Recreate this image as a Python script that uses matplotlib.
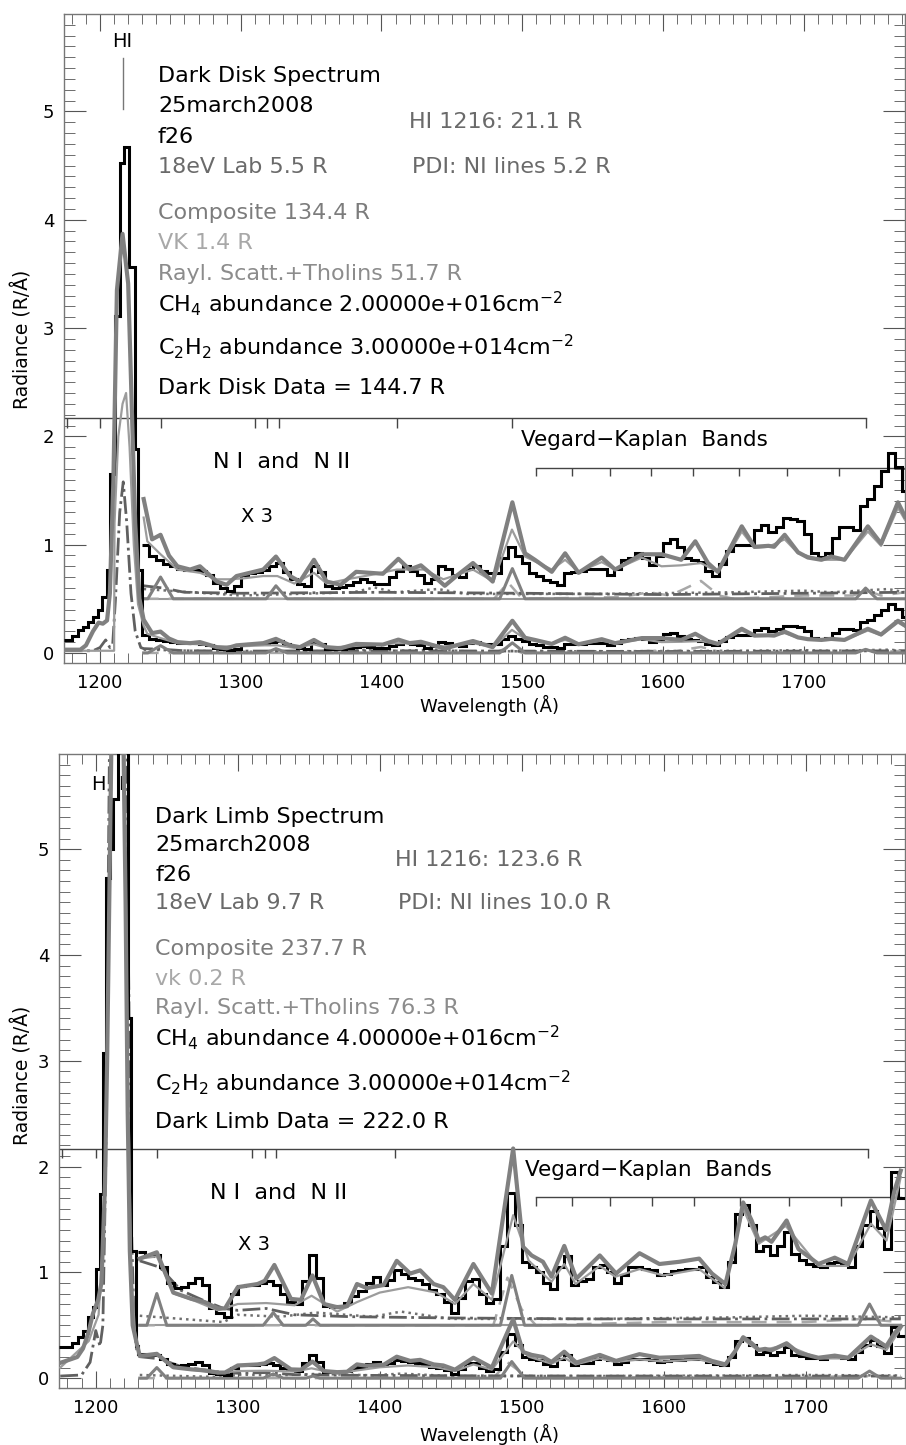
import numpy as np
import matplotlib.pyplot as plt

plt.rcParams['font.family'] = ['DejaVu Sans']
plt.rcParams['mathtext.default'] = 'regular'

# ---------------- data: dark disk (top panel) ----------------
# step spectrum, bin edges (Angstrom) and radiance (R/A)
disk_edges = [1174.5, 1180, 1184.6, 1188, 1191.7, 1195.3, 1198.8, 1201.2, 1204.8,
              1207.1, 1210.7, 1214.2, 1217.0, 1220.8, 1224.9, 1227.2] + list(range(1230, 1780, 5))
disk_data = [0.12, 0.16, 0.21, 0.24, 0.29, 0.33, 0.40, 0.52, 0.77, 1.65, 3.11, 4.52, 4.67, 3.56, 1.88, 0.77,
             0.167, 0.133, 0.120, 0.107, 0.100, 0.093, 0.090, 0.090, 0.087, 0.073,
             0.050, 0.033, 0.023, 0.040, 0.073, 0.080, 0.083, 0.090, 0.100, 0.110,
             0.083, 0.060, 0.047, 0.040, 0.100, 0.083, 0.040, 0.033, 0.037, 0.043,
             0.053, 0.060, 0.053, 0.047, 0.047, 0.067, 0.087, 0.100, 0.087, 0.073,
             0.050, 0.060, 0.100, 0.093, 0.073, 0.067, 0.093, 0.100, 0.087, 0.080,
             0.080, 0.127, 0.160, 0.133, 0.110, 0.080, 0.070, 0.057, 0.053, 0.043,
             0.080, 0.083, 0.087, 0.093, 0.093, 0.093, 0.073, 0.093, 0.120, 0.127,
             0.140, 0.127, 0.103, 0.133, 0.173, 0.183, 0.160, 0.127, 0.120, 0.113,
             0.087, 0.070, 0.107, 0.147, 0.167, 0.167, 0.167, 0.213, 0.227, 0.207,
             0.220, 0.250, 0.247, 0.240, 0.200, 0.140, 0.130, 0.140, 0.187, 0.220,
             0.220, 0.213, 0.287, 0.307, 0.347, 0.393, 0.450, 0.407, 0.333]

disk_comp_wl = [1175, 1186, 1190, 1195, 1199, 1202, 1205, 1207, 1209.5, 1212, 1216, 1220, 1222.5, 1225,
                1228, 1231, 1237, 1243, 1249, 1255, 1264, 1271, 1283, 1290, 1297, 1316, 1325, 1335,
                1342, 1352, 1361, 1371, 1382, 1401, 1412, 1420, 1428, 1437, 1445, 1454, 1465, 1479,
                1493, 1502, 1509, 1521, 1530.5, 1540, 1556.5, 1566, 1585, 1599, 1613, 1623, 1632,
                1639, 1656, 1665, 1675, 1679, 1686.5, 1696, 1703, 1712.6, 1719.6, 1729, 1745.6,
                1755, 1767, 1772]
disk_comp = [0.03, 0.03, 0.07, 0.20, 0.28, 0.27, 0.30, 0.55, 1.6, 3.35, 3.87, 3.41, 2.3, 1.2,
             0.5, 0.307, 0.183, 0.197, 0.133, 0.100, 0.090, 0.100, 0.053, 0.043, 0.070, 0.090, 0.130, 0.070,
             0.053, 0.120, 0.053, 0.043, 0.083, 0.077, 0.123, 0.090, 0.103, 0.070, 0.040, 0.073, 0.110, 0.053,
             0.297, 0.140, 0.120, 0.083, 0.140, 0.080, 0.127, 0.090, 0.137, 0.137, 0.120, 0.177, 0.110,
             0.083, 0.223, 0.160, 0.163, 0.160, 0.197, 0.143, 0.127, 0.120, 0.130, 0.120, 0.223,
             0.170, 0.297, 0.253]

disk_thin_wl = [1175, 1210, 1210.3, 1213, 1216, 1218.5, 1221, 1224, 1227, 1231, 1233.6, 1243, 1255, 1271,
                1283, 1292, 1302, 1316, 1326, 1338, 1352, 1361, 1375.5, 1392, 1411, 1430, 1444, 1465,
                1479.5, 1492.7, 1502, 1521, 1530.5, 1540, 1556.5, 1566, 1585, 1599, 1613, 1627, 1639,
                1656, 1665, 1675, 1686.5, 1696, 1712.6, 1729, 1745.6, 1755, 1767, 1772]
disk_thin = [0.02, 0.02, 1.2, 2.0, 2.3, 2.4, 1.9, 1.0, 0.45, 0.25, 0.177, 0.137, 0.090, 0.080,
             0.060, 0.060, 0.063, 0.070, 0.070, 0.047, 0.080, 0.047, 0.060, 0.073, 0.090, 0.090, 0.060, 0.090,
             0.053, 0.213, 0.130, 0.090, 0.120, 0.083, 0.113, 0.090, 0.127, 0.100, 0.103, 0.110, 0.083,
             0.207, 0.157, 0.160, 0.183, 0.140, 0.120, 0.120, 0.207, 0.163, 0.280, 0.243]

disk_ni_wl = [1231, 1234, 1243, 1252, 1318, 1325, 1333, 1484, 1493, 1502, 1737, 1744, 1752, 1772]
disk_ni = [0.0, 0.0, 0.067, 0.0, 0.0, 0.040, 0.0, 0.0, 0.093, 0.0, 0.0, 0.033, 0.0, 0.0]

disk_ray_wl = [1175, 1195, 1200, 1204, 1207, 1209, 1211, 1214, 1216.5, 1219, 1222, 1225, 1229, 1231,
               1245, 1260, 1300, 1400, 1500, 1600, 1700, 1772]
disk_ray = [0.02, 0.02, 0.05, 0.12, 0.05, 0.08, 0.5, 1.3, 1.58, 1.2, 0.55, 0.2, 0.05, 0.040,
            0.033, 0.020, 0.017, 0.020, 0.017, 0.013, 0.017, 0.020]

disk_vk_wl = [1231, 1480, 1490, 1500, 1570, 1590, 1605, 1615, 1627, 1640, 1650, 1700, 1735, 1745, 1755, 1772]
disk_vk = [0.0, 0.0, 0.05, 0.0, 0.005, 0.02, 0.01, 0.03, 0.055, 0.01, 0.0, 0.01, 0.01, 0.025, 0.01, 0.02]

disk_dot_wl = [1231, 1300, 1380, 1395, 1410, 1440, 1460, 1550, 1650, 1700, 1720, 1760, 1772]
disk_dot = [0.03, 0.01, 0.02, 0.035, 0.02, 0.03, 0.015, 0.015, 0.02, 0.025, 0.02, 0.03, 0.02]

# ---------------- data: dark limb (bottom panel) ----------------
limb_edges = [1174, 1183, 1187.6, 1191.1, 1194.6, 1198.1, 1200.5, 1202.8, 1205.1, 1207, 1209.8,
              1212, 1215.6, 1222.6, 1225, 1228.5] + list(range(1230, 1775, 5))
limb_data = [0.29, 0.33, 0.39, 0.45, 0.58, 0.67, 1.03, 1.74, 3.07, 4.73, 5.0, 5.47, 7.5, 3.4, 1.2, 0.30,
             0.230, 0.217, 0.220, 0.183, 0.133, 0.117, 0.120, 0.133, 0.150, 0.127,
             0.053, 0.040, 0.027, 0.100, 0.123, 0.127, 0.127, 0.133, 0.140, 0.127,
             0.100, 0.073, 0.067, 0.140, 0.220, 0.150, 0.060, 0.057, 0.060, 0.070,
             0.093, 0.107, 0.133, 0.153, 0.127, 0.143, 0.173, 0.160, 0.150, 0.143,
             0.130, 0.110, 0.100, 0.073, 0.040, 0.087, 0.140, 0.147, 0.100, 0.070,
             0.083, 0.250, 0.417, 0.317, 0.200, 0.183, 0.167, 0.133, 0.113, 0.183,
             0.217, 0.127, 0.140, 0.147, 0.183, 0.190, 0.167, 0.133, 0.157, 0.183,
             0.183, 0.177, 0.173, 0.157, 0.160, 0.170, 0.173, 0.177, 0.177, 0.183,
             0.153, 0.137, 0.120, 0.200, 0.350, 0.380, 0.317, 0.233, 0.250, 0.220,
             0.250, 0.293, 0.223, 0.207, 0.193, 0.187, 0.183, 0.197, 0.200, 0.193,
             0.183, 0.250, 0.317, 0.360, 0.307, 0.240, 0.483, 0.400]

limb_comp_wl = [1174, 1187, 1191, 1194.6, 1198, 1201.7, 1204, 1206.5, 1208, 1210, 1212, 1216, 1219,
                1221, 1222.5, 1224, 1226, 1229, 1231, 1243, 1254.6, 1267.5, 1276.8, 1286, 1291, 1300,
                1314, 1319, 1325.8, 1337.5, 1344.5, 1352.6, 1360.8, 1370, 1377, 1384, 1391, 1402.8,
                1412, 1421.5, 1428.5, 1438, 1444.8, 1453, 1466, 1479, 1494, 1501, 1507, 1515, 1521,
                1530, 1538.5, 1555, 1566.5, 1583, 1597, 1611, 1625, 1634, 1643.5, 1650.5, 1656, 1662,
                1667, 1671.5, 1676, 1686.6, 1695, 1709, 1720.5, 1730, 1746, 1756.7, 1762.5, 1767]
limb_comp = [0.14, 0.20, 0.28, 0.42, 0.61, 0.74, 0.90, 1.84, 3.0, 5.0, 7.0, 8.0, 6.5,
             4.5, 2.5, 1.2, 0.5, 0.32, 0.210, 0.230, 0.103, 0.083, 0.073, 0.053, 0.053, 0.120,
             0.130, 0.140, 0.190, 0.083, 0.080, 0.157, 0.067, 0.057, 0.060, 0.130, 0.117, 0.127,
             0.203, 0.163, 0.173, 0.130, 0.120, 0.080, 0.193, 0.100, 0.557, 0.247, 0.220, 0.200, 0.153,
             0.250, 0.147, 0.220, 0.163, 0.227, 0.193, 0.200, 0.210, 0.163, 0.130, 0.257, 0.387, 0.330,
             0.267, 0.277, 0.263, 0.330, 0.240, 0.193, 0.213, 0.193, 0.393, 0.300, 0.423, 0.487]

limb_thin_wl = [1175, 1195, 1202, 1206, 1209, 1212, 1216, 1220, 1222.5, 1225, 1228, 1231, 1243, 1255,
                1268, 1286, 1300, 1320, 1340, 1352, 1370, 1384, 1400, 1420, 1440, 1453, 1466, 1479,
                1494, 1505, 1521, 1530, 1538, 1555, 1566, 1583, 1600, 1625, 1643, 1656, 1667, 1686,
                1709, 1730, 1746, 1757, 1767]
limb_thin = [0.10, 0.35, 0.60, 1.5, 4.0, 6.5, 7.5, 6.0, 3.0, 1.0, 0.35, 0.21, 0.217, 0.100,
             0.080, 0.047, 0.067, 0.070, 0.063, 0.093, 0.043, 0.073, 0.103, 0.120, 0.103, 0.067, 0.130, 0.080,
             0.347, 0.203, 0.137, 0.193, 0.130, 0.187, 0.153, 0.177, 0.157, 0.177, 0.117, 0.367, 0.257, 0.313,
             0.187, 0.187, 0.320, 0.267, 0.467]

limb_ni_wl = [1231, 1236, 1243, 1250, 1318, 1325, 1332, 1348, 1353, 1358, 1485, 1493, 1502, 1737, 1745, 1753, 1767]
limb_ni = [0.0, 0.0, 0.100, 0.0, 0.0, 0.040, 0.0, 0.0, 0.02, 0.0, 0.0, 0.157, 0.0, 0.0, 0.067, 0.0, 0.0]

limb_ray_wl = [1175, 1190, 1196, 1200, 1203, 1205, 1207, 1209, 1211, 1221, 1223, 1225, 1227, 1229,
               1231, 1245, 1260, 1275, 1290, 1300, 1320, 1340, 1380, 1450, 1550, 1650, 1767]
limb_ray = [0.02, 0.03, 0.15, 0.45, 0.30, 0.50, 2.0, 5.0, 8.0, 8.0, 4.0, 1.5, 0.5, 0.25,
            0.203, 0.183, 0.110, 0.080, 0.053, 0.047, 0.053, 0.033, 0.027, 0.023, 0.020, 0.020, 0.020]

limb_vk_wl = [1231, 1480, 1490, 1500, 1510, 1600, 1700, 1740, 1767]
limb_vk = [0.0, 0.0, 0.15, 0.05, 0.0, 0.01, 0.01, 0.02, 0.01]

limb_dot_wl = [1231, 1290, 1300, 1330, 1355, 1395, 1415, 1450, 1550, 1650, 1700, 1767]
limb_dot = [0.03, 0.01, 0.033, 0.027, 0.04, 0.027, 0.043, 0.02, 0.02, 0.025, 0.03, 0.025]

# line markers
ni_ticks = [1176.5, 1200, 1243, 1310, 1319, 1327, 1411, 1493, 1744]
vk_ticks = [1510, 1535.5, 1562.5, 1591.5, 1621.5, 1653.7, 1688.4, 1725]

disk_text = ['Dark Disk Spectrum', '25march2008', 'f26', '18eV Lab 5.5 R',
             'HI 1216: 21.1 R', 'PDI: NI lines 5.2 R', 'Composite 134.4 R', 'VK 1.4 R',
             'Rayl. Scatt.+Tholins 51.7 R', 'CH$_4$ abundance 2.00000e+016cm$^{-2}$',
             'C$_2$H$_2$ abundance 3.00000e+014cm$^{-2}$', 'Dark Disk Data = 144.7 R']
limb_text = ['Dark Limb Spectrum', '25march2008', 'f26', '18eV Lab 9.7 R',
             'HI 1216: 123.6 R', 'PDI: NI lines 10.0 R', 'Composite 237.7 R', 'vk 0.2 R',
             'Rayl. Scatt.+Tholins 76.3 R', 'CH$_4$ abundance 4.00000e+016cm$^{-2}$',
             'C$_2$H$_2$ abundance 3.00000e+014cm$^{-2}$', 'Dark Limb Data = 222.0 R']

SCALE = 3.0     # upper copy is "X 3"
OFFSET = 0.5
CUT = 1230.0

W, H = 906, 1445
fig = plt.figure(figsize=(W / 100, H / 100), dpi=100)


def px_box(l, t, r, b):
    return [l / W, 1 - b / H, (r - l) / W, (b - t) / H]


def ptext(x, y, s, color='black', size=16, **kw):
    fig.text(x / W, 1 - y / H, s, color=color, fontsize=size, va='center', ha='left', **kw)


def curve(ax, wl, val, upper=True, **kw):
    wl = np.asarray(wl, float)
    val = np.asarray(val, float)
    ax.plot(wl, val, **kw)
    if upper:
        m = wl >= CUT
        ax.plot(wl[m], SCALE * val[m] + OFFSET, **kw)


def panel(ax, xlim, edges, data, comp, thin, ni, ray, vk, dot):
    edges = np.asarray(edges, float)
    data = np.asarray(data, float)
    ax.set_xlim(*xlim)
    ax.set_ylim(-0.093, 5.9)

    # baseline of the x3 copy
    ax.plot([CUT + 1, xlim[1]], [OFFSET, OFFSET], color='#9a9a9a', lw=1.5, zorder=2)

    # model components
    curve(ax, *dot, color='#707070', lw=1.8, ls=':', zorder=3)
    curve(ax, *vk, color='#a8a8a8', lw=1.8, ls=(0, (6, 4)), zorder=3)
    curve(ax, *ray, color='#606060', lw=2.0, ls='-.', zorder=3)
    curve(ax, *ni, color='#808080', lw=2.2, zorder=3)

    # data (step)
    ax.stairs(data, edges, baseline=None, color='black', lw=2.2, zorder=4)
    i0 = int(np.searchsorted(edges, CUT))
    ax.stairs(SCALE * data[i0:] + OFFSET, edges[i0:], baseline=None, color='black', lw=2.2, zorder=4)

    curve(ax, *thin, color='#9c9c9c', lw=1.6, zorder=5)
    curve(ax, *comp, color='#808080', lw=3.0, zorder=6)

    # line identifications
    ax.plot([xlim[0], ni_ticks[-1]], [2.17, 2.17], color='#444444', lw=1.0, zorder=2)
    ax.vlines(ni_ticks, 2.08, 2.17, color='#444444', lw=1.0, zorder=2)
    ax.plot([vk_ticks[0], xlim[1]], [1.71, 1.71], color='#444444', lw=1.0, zorder=2)
    ax.vlines(vk_ticks, 1.63, 1.71, color='#444444', lw=1.0, zorder=2)

    ax.set_xticks([1200, 1300, 1400, 1500, 1600, 1700])
    ax.set_xticks(np.arange(1180, 1771, 10), minor=True)
    ax.set_yticks([0, 1, 2, 3, 4, 5])
    ax.set_yticks(np.arange(0, 5.95, 0.1), minor=True)
    ax.tick_params(which='both', direction='in', top=True, right=True, color='#555555',
                   labelsize=13)
    ax.tick_params(axis='x', which='major', length=12, pad=8)
    ax.tick_params(axis='x', which='minor', length=7)
    ax.tick_params(axis='y', which='major', length=16, pad=7)
    ax.tick_params(axis='y', which='minor', length=8)
    for s in ax.spines.values():
        s.set_color('#777777')
        s.set_linewidth(1.0)


ax1 = fig.add_axes(px_box(64, 14, 905, 663))
panel(ax1, (1174.4, 1772), disk_edges, disk_data,
      (disk_comp_wl, disk_comp), (disk_thin_wl, disk_thin), (disk_ni_wl, disk_ni),
      (disk_ray_wl, disk_ray), (disk_vk_wl, disk_vk), (disk_dot_wl, disk_dot))
ax1.text(1215.6, 5.65, 'HI', ha='center', va='center', fontsize=14)
ax1.plot([1216, 1216], [5.02, 5.49], color='#777777', lw=1.0)

ax2 = fig.add_axes(px_box(59, 754, 905, 1388))
panel(ax2, (1174.1, 1767.2), limb_edges, limb_data,
      (limb_comp_wl, limb_comp), (limb_thin_wl, limb_thin), (limb_ni_wl, limb_ni),
      (limb_ray_wl, limb_ray), (limb_vk_wl, limb_vk), (limb_dot_wl, limb_dot))
ax2.text(1202, 5.61, 'H', ha='center', va='center', fontsize=14, zorder=1)
ax2.text(1218, 5.61, 'I', ha='center', va='center', fontsize=14, zorder=1)

# annotation blocks
gray_a, gray_b, gray_c, gray_d = '#6a6a6a', '#7c7c7c', '#a8a8a8', '#8c8c8c'
colors = ['black', 'black', 'black', gray_a, gray_a, gray_a, gray_b, gray_c, gray_d,
          'black', 'black', 'black']
disk_pos = [(158, 76), (158, 106), (158, 137), (158, 167), (409, 122), (412, 167), (158, 213),
            (158, 243), (158, 274), (158, 304), (158, 347), (158, 388)]
limb_pos = [(155, 817), (155, 845), (155, 875), (155, 903), (395, 860), (398, 903), (155, 949),
            (155, 979), (155, 1008), (155, 1038), (155, 1083), (155, 1122)]
for s, (x, y), c in zip(disk_text, disk_pos, colors):
    ptext(x, y, s, color=c)
for s, (x, y), c in zip(limb_text, limb_pos, colors):
    ptext(x, y, s, color=c)

# region labels
ptext(213, 462, 'N I  and  N II', size=16)
ptext(241, 517, 'X 3', size=14)
ptext(521, 440, 'Vegard\u2212Kaplan  Bands', size=15.5)
ptext(210, 1193, 'N I  and  N II', size=16)
ptext(238, 1245, 'X 3', size=14)
ptext(525, 1170, 'Vegard\u2212Kaplan  Bands', size=15.5)

# axis titles
for yc, xc in [(339, 22), (1075, 22)]:
    fig.text(xc / W, 1 - yc / H, 'Radiance (R/\u00c5)', rotation=90, ha='center', va='center',
             fontsize=13.5)
fig.text(490 / W, 1 - 705 / H, 'Wavelength (\u00c5)', ha='center', va='center', fontsize=13)
fig.text(490 / W, 1 - 1434 / H, 'Wavelength (\u00c5)', ha='center', va='center', fontsize=13)

fig.savefig('out.png', dpi=100)
